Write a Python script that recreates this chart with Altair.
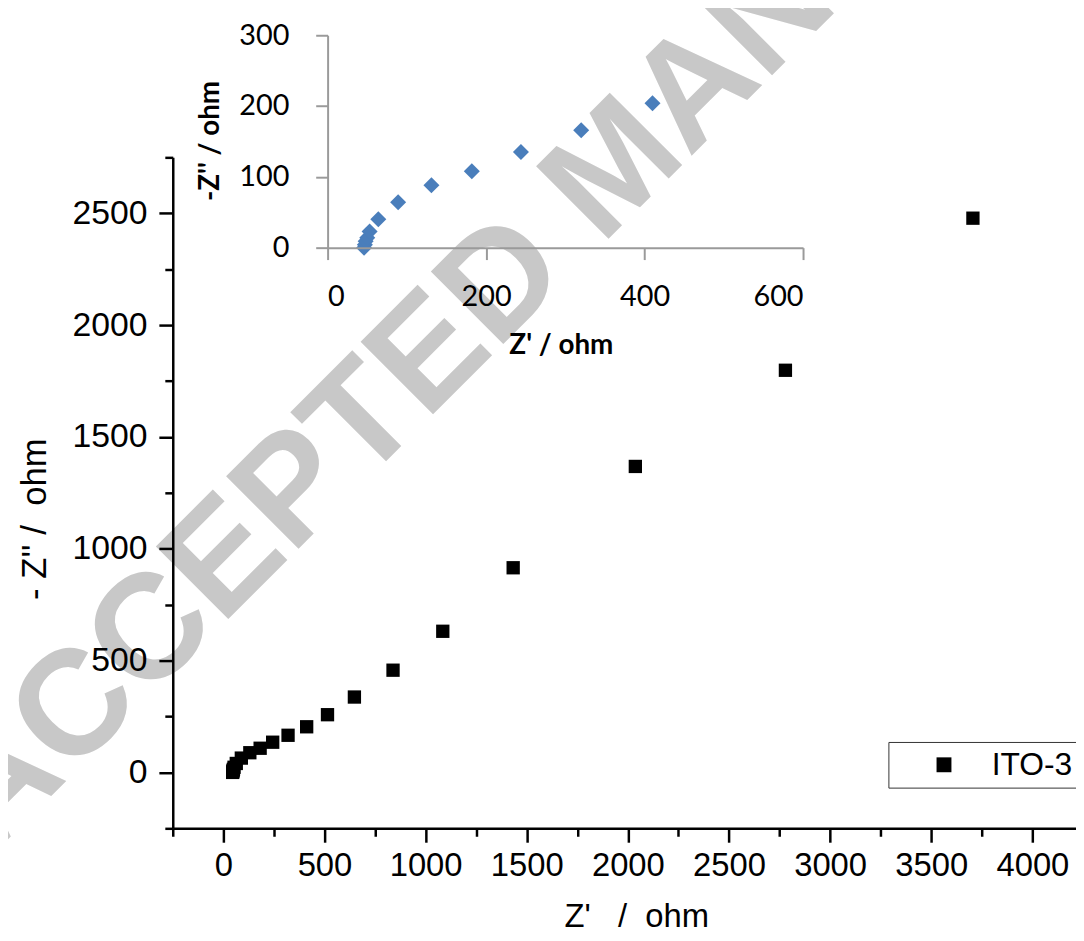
import altair as alt
import pandas as pd

# ---- data ----
z_real = [46, 47, 48, 50, 53, 64, 89, 131, 182, 244, 320, 412, 515, 648, 839, 1085, 1433, 2037, 2779, 3706]
z_imag = [0, 4, 9, 14, 23, 40, 64, 88, 108, 135, 166, 204, 258, 337, 457, 631, 915, 1368, 1798, 2478]
series = ["ITO-3"] * len(z_real)

inset_real = [46, 47, 48, 50, 53, 64, 89, 131, 182, 244, 320, 410]
inset_imag = [0, 4, 9, 14, 23, 40, 64, 88, 108, 135, 166, 204]

x_major = [0, 500, 1000, 1500, 2000, 2500, 3000, 3500, 4000]
x_minor = [-250, 250, 750, 1250, 1750, 2250, 2750, 3250, 3750, 4250]
y_major = [0, 500, 1000, 1500, 2000, 2500]
y_minor = [-250, 250, 750, 1250, 1750, 2250, 2750]
inset_x_ticks = [0, 200, 400, 600]
inset_y_ticks = [0, 100, 200, 300]

watermark = ["ACCEPTED MANUSCRIPT"]

NB = "\u00a0"
x_title = "Z'" + NB * 3 + "/" + NB * 2 + "ohm"
y_title = "- Z'' /" + NB * 2 + "ohm"

MAIN_FONT = "Liberation Sans"
INSET_FONT = "Lato"

main_df = pd.DataFrame({"z_real": z_real, "z_imag": z_imag, "series": series})
inset_df = pd.DataFrame({"z_real": inset_real, "z_imag": inset_imag})
wm_df = pd.DataFrame({"text": watermark})

xs = alt.Scale(domain=[-250, 4250], range=[0, 917], nice=False, zero=False)
ys = alt.Scale(domain=[-250, 2750], range=[799, 123], nice=False, zero=False)
ixs = alt.Scale(domain=[0, 600], range=[156, 635], nice=False, zero=False)
iys = alt.Scale(domain=[0, 300], range=[214, 0], nice=False, zero=False)

wm = alt.Chart(wm_df).mark_text(
    fontSize=150, font=MAIN_FONT, fontWeight="bold", color="#c8c8c8",
    angle=315, align="left", baseline="alphabetic"
).encode(x=alt.value(-181), y=alt.value(825), text="text:N")

minor = alt.Chart(main_df).mark_square(opacity=0).encode(
    x=alt.X("z_real:Q", scale=xs, axis=alt.Axis(
        orient="bottom", values=x_minor, tickSize=8, tickWidth=2.5, tickColor="black",
        labels=False, domain=False, grid=False, title=None, zindex=1)),
    y=alt.Y("z_imag:Q", scale=ys, axis=alt.Axis(
        orient="left", values=y_minor, tickSize=8, tickWidth=2.5, tickColor="black",
        labels=False, domain=False, grid=False, title=None, zindex=1)),
)

main = alt.Chart(main_df).mark_square(size=180, opacity=1).encode(
    x=alt.X("z_real:Q", scale=xs, axis=alt.Axis(
        orient="bottom", values=x_major, format="d", tickSize=14, tickWidth=2.5, tickColor="black",
        domainColor="black", domainWidth=2.5, grid=False, zindex=1,
        labelFont=MAIN_FONT, labelFontSize=33, labelColor="black", labelPadding=8,
        title=x_title, titleFont=MAIN_FONT, titleFontSize=33, titleFontWeight="normal",
        titleColor="black", titleX=467, titleY=99, titleBaseline="alphabetic")),
    y=alt.Y("z_imag:Q", scale=ys, axis=alt.Axis(
        orient="left", values=y_major, format="d", tickSize=14, tickWidth=2.5, tickColor="black",
        domainColor="black", domainWidth=2.5, grid=False, zindex=1,
        labelFont=MAIN_FONT, labelFontSize=34, labelColor="black", labelPadding=12,
        title=y_title, titleFont=MAIN_FONT, titleFontSize=35, titleFontWeight="normal",
        titleColor="black", titleX=-139, titleY=487, titleBaseline="middle")),
    color=alt.Color("series:N", scale=alt.Scale(domain=["ITO-3"], range=["black"]),
                    legend=alt.Legend(
                        title=None, orient="none", legendX=721, legendY=712,
                        strokeColor="#333333", fillColor="white", padding=7,
                        symbolType="square", symbolSize=225, symbolOffset=33,
                        symbolStrokeWidth=0, labelOffset=32,
                        labelFont=MAIN_FONT, labelFontSize=32, labelColor="black")),
)

inset = alt.Chart(inset_df).mark_point(
    shape="diamond", filled=True, size=260, color="#4a7ebb", opacity=1
).encode(
    x=alt.X("z_real:Q", scale=ixs, axis=alt.Axis(
        orient="bottom", offset=-585, values=inset_x_ticks, tickSize=12, tickWidth=2,
        tickColor="#9a9a9a", domainColor="#9a9a9a", domainWidth=2, grid=False, zindex=1,
        labelFont=INSET_FONT, labelFontSize=29, labelColor="black", labelPadding=23,
        title="Z' / ohm", titleFont=INSET_FONT, titleFontSize=28, titleFontWeight="bold",
        titleColor="black", titleX=391, titleY=107, titleBaseline="alphabetic")),
    y=alt.Y("z_imag:Q", scale=iys, axis=alt.Axis(
        orient="left", offset=-156, values=inset_y_ticks, tickSize=12, tickWidth=2,
        tickColor="#9a9a9a", domainColor="#9a9a9a", domainWidth=2, grid=False, zindex=1,
        labelFont=INSET_FONT, labelFontSize=29, labelColor="black", labelPadding=27,
        title="-Z'' / ohm", titleFont=INSET_FONT, titleFontSize=28, titleFontWeight="bold",
        titleColor="black", titleX=-118, titleY=106, titleBaseline="middle")),
)

chart = alt.layer(wm, minor, main, inset).resolve_scale(
    x="independent", y="independent"
).properties(
    width=910, height=799,
    padding={"left": 166, "top": 24, "right": 0, "bottom": 102},
    autosize=alt.AutoSizeParams(type="none"),
).configure_view(stroke=None)

chart.save("out.html", embed_options={"renderer": "svg", "actions": False})
